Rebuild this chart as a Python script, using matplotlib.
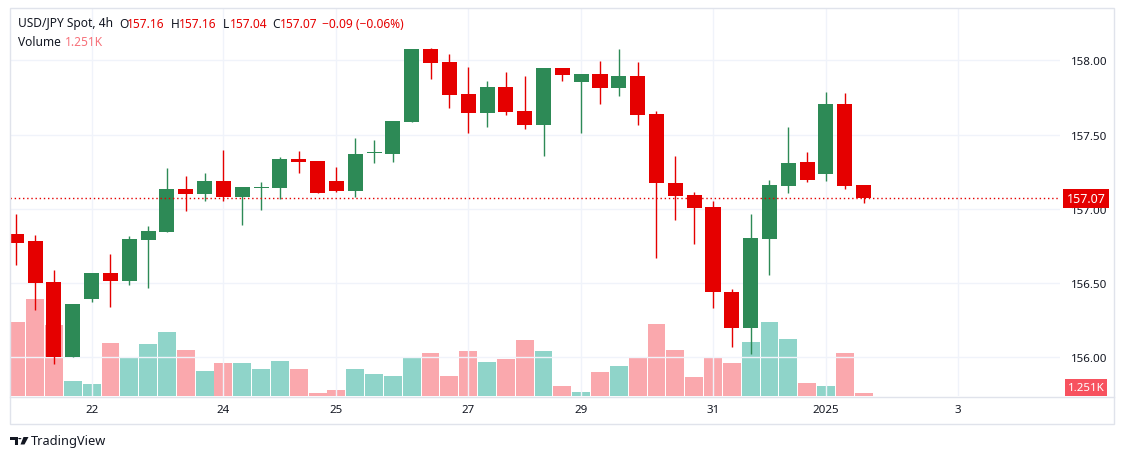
import matplotlib
matplotlib.use("Agg")
import matplotlib.pyplot as plt
from matplotlib.patches import Rectangle, Polygon, Circle
from matplotlib.lines import Line2D
import numpy as np

# USD/JPY 4h candles
opens = [156.83, 156.78, 156.507, 156.002, 156.393, 156.568, 156.514, 156.79, 156.844, 157.133,
         157.10, 157.187, 157.079, 157.14, 157.14, 157.335, 157.32, 157.187, 157.12, 157.373,
         157.369, 157.584, 158.076, 157.989, 157.773, 157.645, 157.82, 157.659, 157.564, 157.948,
         157.853, 157.908, 157.813, 157.894, 157.638, 157.174, 157.093, 157.012, 156.44, 156.197,
         156.797, 157.153, 157.315, 157.234, 157.705, 157.16]
highs = [156.965, 156.82, 156.588, 156.359, 156.568, 156.696, 156.817, 156.884, 157.275, 157.221,
         157.241, 157.396, 157.147, 157.18, 157.349, 157.389, 157.32, 157.281, 157.477, 157.463,
         157.591, 158.076, 158.083, 158.042, 157.955, 157.86, 157.921, 157.894, 157.948, 157.948,
         157.908, 157.995, 158.076, 157.989, 157.659, 157.356, 157.113, 157.052, 156.46, 156.965,
         157.194, 157.551, 157.382, 157.786, 157.78, 157.16]
lows = [156.62, 156.32, 155.957, 156.002, 156.374, 156.341, 156.487, 156.467, 156.844, 156.985,
        157.052, 157.052, 156.891, 156.994, 157.066, 157.241, 157.106, 157.113, 157.079, 157.308,
        157.315, 157.584, 157.874, 157.679, 157.51, 157.551, 157.632, 157.537, 157.356, 157.86,
        157.51, 157.705, 157.76, 157.564, 156.669, 156.925, 156.763, 156.332, 156.07, 156.022,
        156.554, 157.106, 157.18, 157.187, 157.133, 157.04]
closes = [156.77, 156.50, 156.002, 156.359, 156.568, 156.514, 156.797, 156.85, 157.133, 157.10,
          157.187, 157.079, 157.147, 157.145, 157.335, 157.315, 157.106, 157.12, 157.369, 157.378,
          157.591, 158.076, 157.982, 157.766, 157.645, 157.82, 157.652, 157.564, 157.948, 157.901,
          157.908, 157.813, 157.894, 157.632, 157.174, 157.086, 157.005, 156.44, 156.197, 156.803,
          157.16, 157.308, 157.194, 157.705, 157.153, 157.07]
# volume in thousands
volumes = [30.9, 40.4, 29.6, 6.3, 5.0, 22.1, 16.3, 21.7, 26.7, 19.2,
           10.4, 13.8, 13.8, 11.3, 14.6, 11.3, 1.3, 2.5, 11.3, 9.2,
           8.3, 15.8, 17.9, 8.3, 18.8, 14.2, 15.4, 23.4, 18.8, 4.2,
           1.7, 10.0, 12.5, 16.3, 30.0, 19.2, 7.9, 15.8, 13.8, 22.5,
           30.9, 23.8, 5.4, 4.2, 17.9, 1.251]

tick_index = [4, 11, 17, 24, 30, 37, 43, 50]
tick_labels = ["22", "24", "25", "27", "29", "31", "2025", "3"]
price_ticks = [156.0, 156.5, 157.0, 157.5, 158.0]
last_price = 157.07

RED = "#e50000"
GREEN = "#2d8a56"
VOL_RED = "#faa8ad"
VOL_GREEN = "#8fd4c9"
TXT = "#131722"
GRID = "#f0f3fa"
FRAME = "#e0e3eb"
FONT = ["Noto Sans", "DejaVu Sans"]

plt.rcParams["font.family"] = FONT

W, H = 1125, 460
fig = plt.figure(figsize=(W / 100, H / 100), dpi=100)
fig.patch.set_facecolor("white")


def fx(x):
    return x / W


def fy(y):
    return 1 - y / H


rect = [fx(10), fy(397), fx(1060) - fx(10), fy(9) - fy(397)]
axv = fig.add_axes(rect)
ax = fig.add_axes(rect, sharex=axv)
ax.patch.set_visible(False)

n = len(opens)
x = np.arange(n)
o = np.array(opens)
c = np.array(closes)
up = c >= o

# volume bars underneath
axv.bar(x, volumes, width=0.95, color=[VOL_GREEN if u else VOL_RED for u in up], linewidth=0)
axv.set_ylim(0, 161.8)
axv.axis("off")

# candles
cols = [GREEN if u else RED for u in up]
ax.vlines(x, lows, highs, colors=cols, linewidth=1.0, zorder=3)
bottoms = np.minimum(o, c)
heights = np.maximum(np.abs(c - o), 0.007)
ax.bar(x, heights, bottom=bottoms, width=0.8, color=cols, linewidth=0, zorder=4)

ax.set_xlim(-0.335, 55.43)
ax.set_ylim(155.739, 158.352)

for p in price_ticks:
    ax.axhline(p, color=GRID, linewidth=1, zorder=1)
for t in tick_index:
    ax.axvline(t, color=GRID, linewidth=1, zorder=1)

ax.axhline(last_price, color=RED, linewidth=1, linestyle=(0, (1, 2)), zorder=5)

ax.yaxis.tick_right()
ax.set_yticks(price_ticks)
ax.set_yticklabels([f"{p:.2f}" for p in price_ticks])
ax.set_xticks(tick_index)
ax.set_xticklabels(tick_labels)
ax.tick_params(axis="y", length=0, pad=8, labelsize=8.3, labelcolor=TXT)
ax.tick_params(axis="x", length=0, pad=6, labelsize=8.3, labelcolor=TXT)
for lab in ax.get_xticklabels():
    if lab.get_text() == "2025":
        lab.set_fontweight("bold")
for s in ax.spines.values():
    s.set_visible(False)

# price and volume labels on the axis
ax.text(fx(1086), last_price, "157.07", transform=ax.get_yaxis_transform().__class__(fig.transFigure, ax.transData),
        ha="center", va="center", color="white", fontsize=9, fontweight="bold", zorder=10,
        bbox=dict(boxstyle="square,pad=0.25", fc=RED, ec="none"), clip_on=False)
fig.text(fx(1086), fy(388.5), "1.251K", ha="center", va="center", color="white", fontsize=8.3,
         fontweight="bold", bbox=dict(boxstyle="square,pad=0.22", fc="#f7525f", ec="none"))

# frame lines
fig.add_artist(Rectangle((fx(10), fy(425)), fx(1114) - fx(10), fy(9) - fy(425),
                         transform=fig.transFigure, fill=False, ec=FRAME, lw=1))
fig.add_artist(Line2D([fx(10), fx(1114)], [fy(397.5), fy(397.5)], transform=fig.transFigure,
                      color=FRAME, lw=1))

# legend header
hy1, hy2 = fy(24), fy(42)
pieces = [(18, "USD/JPY Spot, 4h", TXT), (119, "O", TXT), (127, "157.16", RED),
          (171, "H", TXT), (179, "157.16", RED), (223, "L", TXT), (230, "157.04", RED),
          (272, "C", TXT), (280, "157.07", RED), (322, "\u22120.09 (\u22120.06%)", RED)]
for px, s, col in pieces:
    fig.text(fx(px), hy1, s, ha="left", va="center", color=col, fontsize=8.6)
fig.text(fx(18), hy2, "Volume", ha="left", va="center", color=TXT, fontsize=8.6)
fig.text(fx(65), hy2, "1.251K", ha="left", va="center", color="#f7717a", fontsize=8.6)

# TradingView mark
tf = fig.transFigure
fig.add_artist(Polygon([(fx(10), fy(438)), (fx(17.5), fy(438)), (fx(17.5), fy(445.5)),
                        (fx(14.5), fy(445.5)), (fx(14.5), fy(441)), (fx(10), fy(441))],
                       closed=True, transform=tf, fc="#131722", ec="none"))
fig.add_artist(Circle((fx(19.8), fy(439.6)), 1.6 / W, transform=tf, fc="#131722", ec="none"))
fig.add_artist(Polygon([(fx(23.5), fy(438)), (fx(28.5), fy(438)), (fx(24.5), fy(445.5)),
                        (fx(20.5), fy(445.5))], closed=True, transform=tf, fc="#131722", ec="none"))
fig.text(fx(31), fy(442), "TradingView", ha="left", va="center", color=TXT, fontsize=9.2)

fig.savefig("out.png", dpi=100, facecolor="white")
